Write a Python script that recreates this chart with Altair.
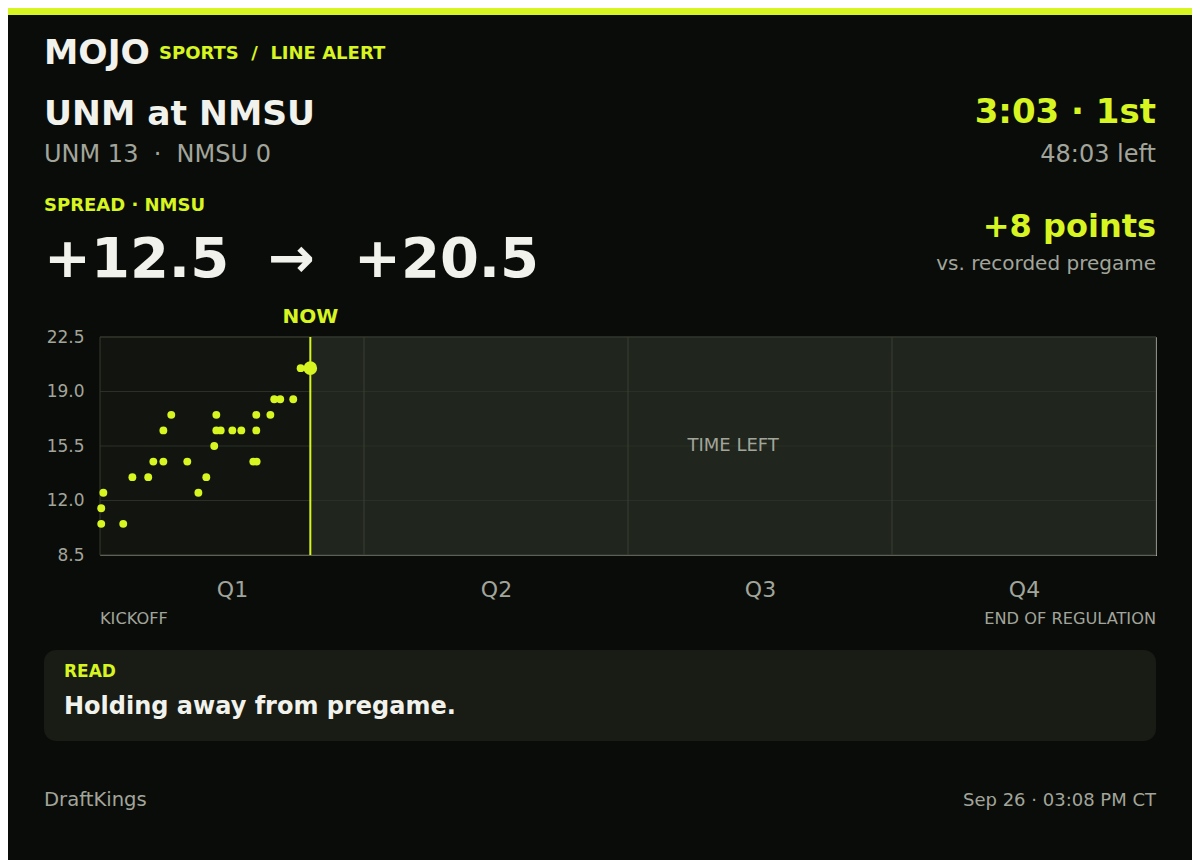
import json
import altair as alt
import pandas as pd

# ---------------- data ----------------
minutes = [0.07, 0.07, 0.19, 1.32, 1.84, 2.74, 3.03, 3.60, 3.60, 4.05,
           4.96, 5.59, 6.04, 6.49, 6.61, 6.61, 6.86, 7.52, 8.03, 8.71,
           8.90, 8.88, 8.88, 9.68, 9.90, 10.24, 10.98, 11.40]
spreads = [10.5, 11.5, 12.5, 10.5, 13.5, 13.5, 14.5, 14.5, 16.5, 17.5,
           14.5, 12.5, 13.5, 15.5, 17.5, 16.5, 16.5, 16.5, 16.5, 14.5,
           14.5, 16.5, 17.5, 17.5, 18.5, 18.5, 18.5, 20.5]
now_minute = 11.95
now_spread = 20.5
game_minutes = 60
quarter_labels = ["Q1", "Q2", "Q3", "Q4"]
quarter_mids = [7.5, 22.5, 37.5, 52.5]
quarter_bounds = [15, 30, 45]
y_ticks = [8.5, 12.0, 15.5, 19.0, 22.5]
y_min, y_max = 8.5, 22.5

# ---------------- style ----------------
BG = "#0a0c09"
ACCENT = "#d6f521"
WHITE = "#f2f2ec"
GRAY = "#a2a59b"
DARK_PLOT = "#11140f"
LIGHT_PLOT = "#20251d"
FONT = "DejaVu Sans"
NB = "\u00a0"
W, H = 1056, 218
PAGE_MARGIN = 8
PAD_L, PAD_T = 100, 337          # plot origin in page coordinates
TOTAL_W, TOTAL_H = 1200 - 2 * PAGE_MARGIN, 860 - PAGE_MARGIN

pts = pd.DataFrame({"minute": minutes, "spread": spreads})
now_df = pd.DataFrame({"minute": [now_minute], "spread": [now_spread]})
region = pd.DataFrame({"start": [0.0], "end": [now_minute], "lo": [y_min], "hi": [y_max],
                       "total": [game_minutes]})

xs = alt.Scale(domain=[0, game_minutes], nice=False, zero=False)
ys = alt.Scale(domain=[y_min, y_max], nice=False, zero=False)

label_expr = "%s[floor(datum.value / 15)]" % json.dumps(quarter_labels)

x_axis = alt.Axis(values=quarter_mids, labelExpr=label_expr, ticks=False, tickSize=0,
                  domain=False, grid=False, labelColor=GRAY, labelFontSize=22,
                  labelFont=FONT, labelPadding=41, labelBaseline="alphabetic", title=None)
y_axis = alt.Axis(values=y_ticks, format=".1f", ticks=False, tickSize=0, domain=False,
                  grid=False, labelColor=GRAY, labelFontSize=17, labelFont=FONT,
                  labelPadding=16, title=None)

light = alt.Chart(region).mark_rect(color=LIGHT_PLOT).encode(
    x=alt.X("end:Q", scale=xs, axis=x_axis), x2="total:Q",
    y=alt.Y("lo:Q", scale=ys, axis=y_axis), y2="hi:Q")
dark = alt.Chart(region).mark_rect(color=DARK_PLOT).encode(
    x=alt.X("start:Q", scale=xs), x2="end:Q",
    y=alt.Y("lo:Q", scale=ys), y2="hi:Q")

hgrid = alt.Chart(pd.DataFrame({"v": y_ticks})).mark_rule(color="#2b3027", strokeWidth=1).encode(
    y=alt.Y("v:Q", scale=ys))
vgrid = alt.Chart(pd.DataFrame({"b": quarter_bounds})).mark_rule(color="#3a3f35", strokeWidth=1).encode(
    x=alt.X("b:Q", scale=xs))
border = alt.Chart(region).mark_rect(fillOpacity=0, stroke="#363b31", strokeWidth=1).encode(
    x=alt.X("start:Q", scale=xs), x2="total:Q",
    y=alt.Y("lo:Q", scale=ys), y2="hi:Q")

now_rule = alt.Chart(now_df).mark_rule(color=ACCENT, strokeWidth=2).encode(
    x=alt.X("minute:Q", scale=xs))
dots = alt.Chart(pts).mark_circle(size=62, color=ACCENT, opacity=1).encode(
    x=alt.X("minute:Q", scale=xs), y=alt.Y("spread:Q", scale=ys))
big = alt.Chart(now_df).mark_circle(size=185, color=ACCENT, opacity=1).encode(
    x=alt.X("minute:Q", scale=xs), y=alt.Y("spread:Q", scale=ys))
now_label = alt.Chart(now_df).mark_text(text="NOW", font=FONT, fontSize=20, fontWeight="bold",
                                        color=ACCENT, baseline="alphabetic", align="center").encode(
    x=alt.X("minute:Q", scale=xs), y=alt.value(323 - PAD_T))

time_left = alt.Chart(region).transform_calculate(
    mid="(datum.end + datum.total) / 2", ymid="(datum.lo + datum.hi) / 2").mark_text(
    text="TIME LEFT", font=FONT, fontSize=18, color=GRAY, baseline="middle", align="center").encode(
    x=alt.X("mid:Q", scale=xs), y=alt.Y("ymid:Q", scale=ys))


def label(text, x, y, size, color, bold=False, align="left"):
    return alt.Chart(pd.DataFrame({"t": [text]})).mark_text(
        font=FONT, fontSize=size, fontWeight="bold" if bold else "normal", color=color,
        align=align, baseline="alphabetic").encode(
        text="t:N", x=alt.value(x - PAD_L), y=alt.value(y - PAD_T))


def box(x1, x2, y1, y2, color, radius=0):
    return alt.Chart(pd.DataFrame({"k": [0]})).mark_rect(color=color, cornerRadius=radius).encode(
        x=alt.value(x1 - PAD_L), x2=alt.value(x2 - PAD_L),
        y=alt.value(y1 - PAD_T), y2=alt.value(y2 - PAD_T))


texts = [
    box(PAGE_MARGIN, 1200 - PAGE_MARGIN, PAGE_MARGIN, PAGE_MARGIN + 7, ACCENT),
    label("MOJO", 44, 64, 34.5, WHITE, True),
    label("SPORTS" + NB * 2 + "/" + NB * 2 + "LINE ALERT", 159, 59, 18, ACCENT, True),
    label("UNM at NMSU", 44, 125, 34.5, WHITE, True),
    label("UNM 13" + NB * 2 + "·" + NB * 2 + "NMSU 0", 44, 162, 24, GRAY),
    label("3:03 · 1st", 1156, 123, 34, ACCENT, True, "right"),
    label("48:03 left", 1156, 162, 24, GRAY, False, "right"),
    label("SPREAD · NMSU", 44, 211, 18, ACCENT, True),
    label("+12.5" + NB * 2 + "→" + NB * 2 + "+20.5", 44, 277, 56, WHITE, True),
    label("+8 points", 1156, 237, 32, ACCENT, True, "right"),
    label("vs. recorded pregame", 1156, 270, 20, GRAY, False, "right"),
    label("KICKOFF", 100, 624, 16.2, GRAY),
    label("END OF REGULATION", 1156, 624, 16.2, GRAY, False, "right"),
    box(44, 1156, 650, 741, "#181c14", 12),
    label("READ", 64, 677, 17, ACCENT, True),
    label("Holding away from pregame.", 64, 714, 24, WHITE, True),
    label("DraftKings", 44, 806, 19.6, GRAY),
    label("Sep 26 · 03:08 PM CT", 1156, 806, 18, GRAY, False, "right"),
]

pad_l = PAD_L - PAGE_MARGIN
pad_t = PAD_T - PAGE_MARGIN
chart = alt.layer(
    light, dark, hgrid, vgrid, border, time_left, now_rule, dots, big, now_label, *texts
).properties(
    width=W, height=H,
    autosize=alt.AutoSizeParams(type="none"),
    padding={"left": pad_l, "top": pad_t, "right": TOTAL_W - pad_l - W, "bottom": TOTAL_H - pad_t - H},
    background=BG,
).configure_view(
    stroke=None
).configure(font=FONT)

chart.save("out.html", embed_options={"renderer": "svg", "actions": False})
